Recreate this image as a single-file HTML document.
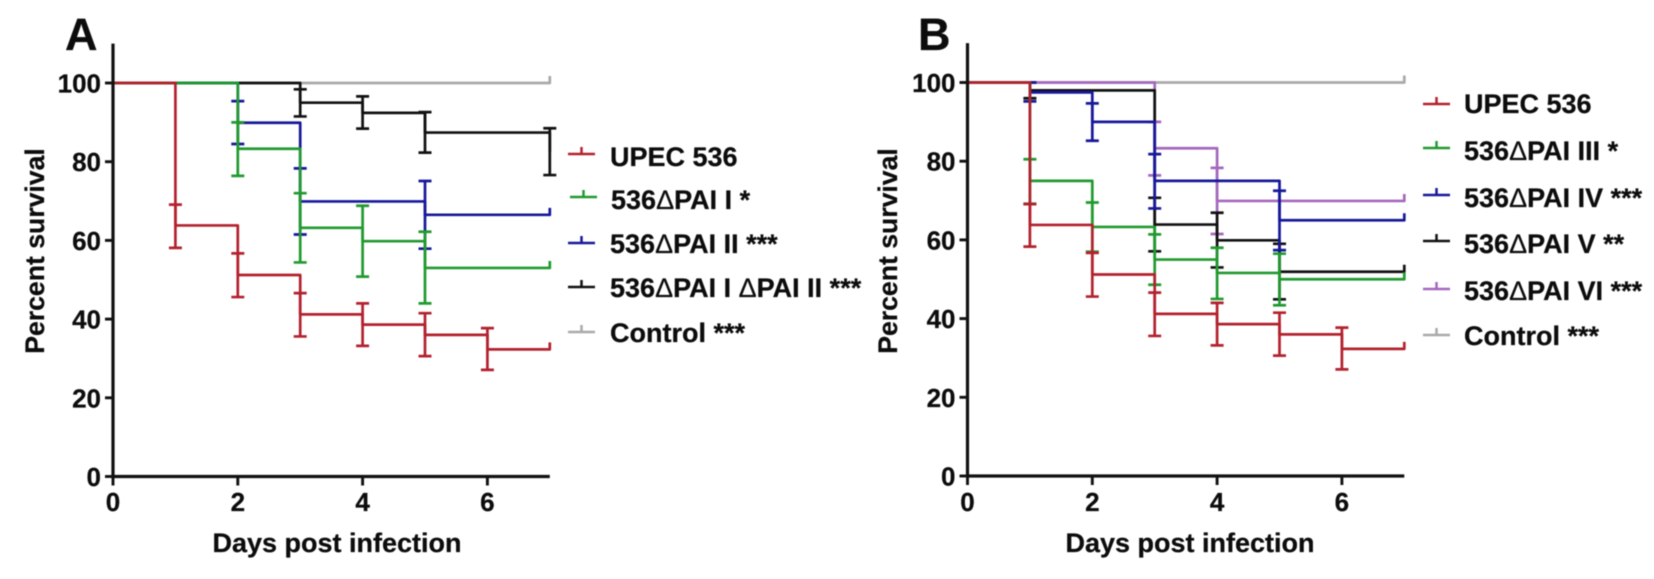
<!DOCTYPE html>
<html lang="en">
<head>
<meta charset="utf-8">
<title>Survival curves of UPEC 536 PAI deletion mutants</title>
<style>
html,body{margin:0;padding:0;background:#fff;width:1654px;height:579px;overflow:hidden}
svg{display:block;filter:blur(0.5px)}
text{font-family:"Liberation Sans",Arial,sans-serif;font-weight:700;fill:#0c0c0c;stroke:#0c0c0c;stroke-width:0.25px}
.d{font-weight:400}
</style>
</head>
<body>
<svg id="figure" xmlns="http://www.w3.org/2000/svg" width="1654" height="579" viewBox="0 0 1654 579">
  <rect width="1654" height="579" fill="#fff"/>

  <g id="panelA"></g>
  <g id="panelB"></g>

  <text x="65" y="50" font-size="45">A</text>
  <text x="918" y="50" font-size="45">B</text>

  <text transform="translate(44,251) rotate(-90)" text-anchor="middle" font-size="26.6">Percent survival</text>
  <text transform="translate(897,251) rotate(-90)" text-anchor="middle" font-size="26.6">Percent survival</text>
  <text x="337" y="552" text-anchor="middle" font-size="27">Days post infection</text>
  <text x="1190" y="552" text-anchor="middle" font-size="27">Days post infection</text>

  <g font-size="27">
    <text x="610" y="166">UPEC 536</text>
    <text x="611" y="209">536<tspan class="d">Δ</tspan>PAI I *</text>
    <text x="610" y="253">536<tspan class="d">Δ</tspan>PAI II ***</text>
    <text x="610" y="297">536<tspan class="d">Δ</tspan>PAI I <tspan class="d">Δ</tspan>PAI II ***</text>
    <text x="610" y="342">Control ***</text>
  </g>
  <g font-size="27">
    <text x="1464" y="113">UPEC 536</text>
    <text x="1464" y="160">536<tspan class="d">Δ</tspan>PAI III *</text>
    <text x="1464" y="207">536<tspan class="d">Δ</tspan>PAI IV ***</text>
    <text x="1464" y="253">536<tspan class="d">Δ</tspan>PAI V **</text>
    <text x="1464" y="300">536<tspan class="d">Δ</tspan>PAI VI ***</text>
    <text x="1464" y="345">Control ***</text>
  </g>
</svg>

<script>
// Axis ticks
const xTickLabels = [0, 2, 4, 6];
const yTickLabels = [0, 20, 40, 60, 80, 100];
const xMaxDay = 7;

// Panel A
const aUpecDays = [1, 2, 3, 4, 5, 6];
const aUpecValues = [63.8, 51.2, 41.2, 38.6, 36.0, 32.3];
const aUpecUpper = [69.1, 56.7, 46.6, 44.0, 41.5, 37.7];
const aUpecLower = [58.1, 45.6, 35.6, 33.2, 30.6, 27.1];

const aPai1Days = [2, 3, 4, 5];
const aPai1Values = [83.3, 63.2, 59.8, 53.0];
const aPai1Upper = [90.0, 72.0, 68.8, 62.2];
const aPai1Lower = [76.4, 54.4, 50.8, 44.0];

const aPai2Days = [2, 3, 5];
const aPai2Values = [89.9, 69.9, 66.5];
const aPai2Upper = [95.4, 78.3, 75.1];
const aPai2Lower = [84.5, 61.5, 57.9];

const aPai12Days = [3, 4, 5, 7];
const aPai12Values = [95.0, 92.4, 87.4, 82.5];
const aPai12Upper = [98.4, 96.6, 92.6, 88.5];
const aPai12Lower = [91.5, 88.4, 82.3, 76.6];

const aControlDays = [];
const aControlValues = [];
const aControlUpper = [];
const aControlLower = [];

// Panel B
const bUpecDays = [1, 2, 3, 4, 5, 6];
const bUpecValues = [63.8, 51.2, 41.2, 38.6, 36.0, 32.3];
const bUpecUpper = [69.1, 56.7, 46.6, 44.0, 41.5, 37.7];
const bUpecLower = [58.3, 45.6, 35.6, 33.2, 30.6, 27.1];

const bPai3Days = [1, 2, 3, 4, 5];
const bPai3Values = [75.0, 63.3, 55.0, 51.6, 50.0];
const bPai3Upper = [80.5, 69.5, 61.4, 58.0, 56.5];
const bPai3Lower = [69.2, 57.0, 48.6, 45.0, 43.4];

const bPai4Days = [1, 2, 3, 5];
const bPai4Values = [97.5, 90.0, 75.0, 65.0];
const bPai4Upper = [100, 94.7, 81.8, 72.5];
const bPai4Lower = [95.2, 85.2, 68.0, 57.4];

const bPai5Days = [1, 3, 4, 5];
const bPai5Values = [98.0, 63.9, 59.9, 51.9];
const bPai5Upper = [100, 70.7, 66.9, 59.0];
const bPai5Lower = [96.0, 57.1, 53.0, 44.9];

const bPai6Days = [3, 4];
const bPai6Values = [83.3, 69.9];
const bPai6Upper = [90.0, 78.3];
const bPai6Lower = [76.4, 61.5];

const bControlDays = [];
const bControlValues = [];
const bControlUpper = [];
const bControlLower = [];

const NS = 'http://www.w3.org/2000/svg';
const COLORS = {red:'#b3212e', green:'#219a2f', blue:'#17189a', black:'#111111', gray:'#a9a9a9', purple:'#a568bd'};

function makeEl(tag, attrs, parent) {
  const el = document.createElementNS(NS, tag);
  for (const k in attrs) el.setAttribute(k, attrs[k]);
  parent.appendChild(el);
  return el;
}
function makeScales(x0, y0) {
  return {
    x: d => x0 + d * 62.4,
    y: v => y0 - v * 3.935
  };
}
function drawAxes(parent, s, prefix) {
  const xAxis = makeEl('line', {x1: s.x(0) - 1.5, x2: s.x(xMaxDay), y1: s.y(0), y2: s.y(0), stroke: '#111', 'stroke-width': 3.2}, parent);
  
  
  const yAxis = makeEl('line', {x1: s.x(0), x2: s.x(0), y1: s.y(110), y2: s.y(0) + 1.5, stroke: '#111', 'stroke-width': 3.2}, parent);
  
  
  xTickLabels.forEach(t => {
    const tick = makeEl('line', {x1: s.x(t), x2: s.x(t), y1: s.y(0), y2: s.y(0) + 9, stroke: '#111', 'stroke-width': 2.9}, parent);
    
    
    const lab = makeEl('text', {x: s.x(t), y: 511, 'text-anchor': 'middle', 'font-size': 26}, parent);
    
    
    lab.textContent = t;
  });
  yTickLabels.forEach(t => {
    const tick = makeEl('line', {x1: s.x(0) - 8, x2: s.x(0), y1: s.y(t), y2: s.y(t), stroke: '#111', 'stroke-width': 2.9}, parent);
    
    
    const lab = makeEl('text', {x: s.x(0) - 12, y: s.y(t) + 9.5, 'text-anchor': 'end', 'font-size': 26}, parent);
    
    
    lab.textContent = t;
  });
}
function drawSeries(parent, s, name, color, days, values, upper, lower, hook) {
  const g = makeEl('g', {fill: 'none', stroke: color, 'stroke-width': 2.7}, parent);
  
  
  let d = 'M' + s.x(0) + ' ' + s.y(100);
  days.forEach((day, i) => {
    d += ' H' + s.x(day) + ' V' + s.y(values[i]);
  });
  d += ' H' + s.x(xMaxDay);
  if (hook) d += ' v-7';
  const path = makeEl('path', {d: d, 'stroke-linejoin': 'round'}, g);
  
  
  days.forEach((day, i) => {
    const x = s.x(day);
    const bar = makeEl('path', {
      d: 'M' + x + ' ' + s.y(upper[i]) + ' V' + s.y(lower[i]) +
         ' M' + (x - 6.5) + ' ' + s.y(upper[i]) + ' H' + (x + 6.5) +
         ' M' + (x - 6.5) + ' ' + s.y(lower[i]) + ' H' + (x + 6.5)
    }, g);
    
    
  });
}
function drawKey(parent, x, y, color, name) {
  const k = makeEl('path', {d: 'M' + x + ' ' + y + ' h27 M' + (x + 13.5) + ' ' + y + ' v-7', fill: 'none', stroke: color, 'stroke-width': 2.5}, parent);
  
  
}

const panelA = document.getElementById('panelA');
const scaleA = makeScales(113, 476.5);
drawSeries(panelA, scaleA, 'a-control-series', COLORS.gray, aControlDays, aControlValues, aControlUpper, aControlLower, true);
drawSeries(panelA, scaleA, 'a-pai-i-ii-series', COLORS.black, aPai12Days, aPai12Values, aPai12Upper, aPai12Lower, false);
drawSeries(panelA, scaleA, 'a-pai-ii-series', COLORS.blue, aPai2Days, aPai2Values, aPai2Upper, aPai2Lower, true);
drawSeries(panelA, scaleA, 'a-pai-i-series', COLORS.green, aPai1Days, aPai1Values, aPai1Upper, aPai1Lower, true);
drawSeries(panelA, scaleA, 'a-upec-536-series', COLORS.red, aUpecDays, aUpecValues, aUpecUpper, aUpecLower, true);
drawAxes(panelA, scaleA, 'panel-a');
drawKey(panelA, 568, 154, COLORS.red, 'legend-a-upec-key');
drawKey(panelA, 570, 197, COLORS.green, 'legend-a-pai-i-key');
drawKey(panelA, 568, 243, COLORS.blue, 'legend-a-pai-ii-key');
drawKey(panelA, 568, 287, COLORS.black, 'legend-a-pai-i-ii-key');
drawKey(panelA, 568, 332, COLORS.gray, 'legend-a-control-key');

const panelB = document.getElementById('panelB');
const scaleB = makeScales(967.5, 476);
drawSeries(panelB, scaleB, 'b-control-series', COLORS.gray, bControlDays, bControlValues, bControlUpper, bControlLower, true);
drawSeries(panelB, scaleB, 'b-pai-vi-series', COLORS.purple, bPai6Days, bPai6Values, bPai6Upper, bPai6Lower, true);
drawSeries(panelB, scaleB, 'b-pai-v-series', COLORS.black, bPai5Days, bPai5Values, bPai5Upper, bPai5Lower, true);
drawSeries(panelB, scaleB, 'b-pai-iv-series', COLORS.blue, bPai4Days, bPai4Values, bPai4Upper, bPai4Lower, true);
drawSeries(panelB, scaleB, 'b-pai-iii-series', COLORS.green, bPai3Days, bPai3Values, bPai3Upper, bPai3Lower, true);
drawSeries(panelB, scaleB, 'b-upec-536-series', COLORS.red, bUpecDays, bUpecValues, bUpecUpper, bUpecLower, true);
drawAxes(panelB, scaleB, 'panel-b');
drawKey(panelB, 1423, 104, COLORS.red, 'legend-b-upec-key');
drawKey(panelB, 1423, 148, COLORS.green, 'legend-b-pai-iii-key');
drawKey(panelB, 1423, 195, COLORS.blue, 'legend-b-pai-iv-key');
drawKey(panelB, 1423, 241, COLORS.black, 'legend-b-pai-v-key');
drawKey(panelB, 1423, 289, COLORS.purple, 'legend-b-pai-vi-key');
drawKey(panelB, 1423, 335, COLORS.gray, 'legend-b-control-key');
</script>
</body>
</html>
